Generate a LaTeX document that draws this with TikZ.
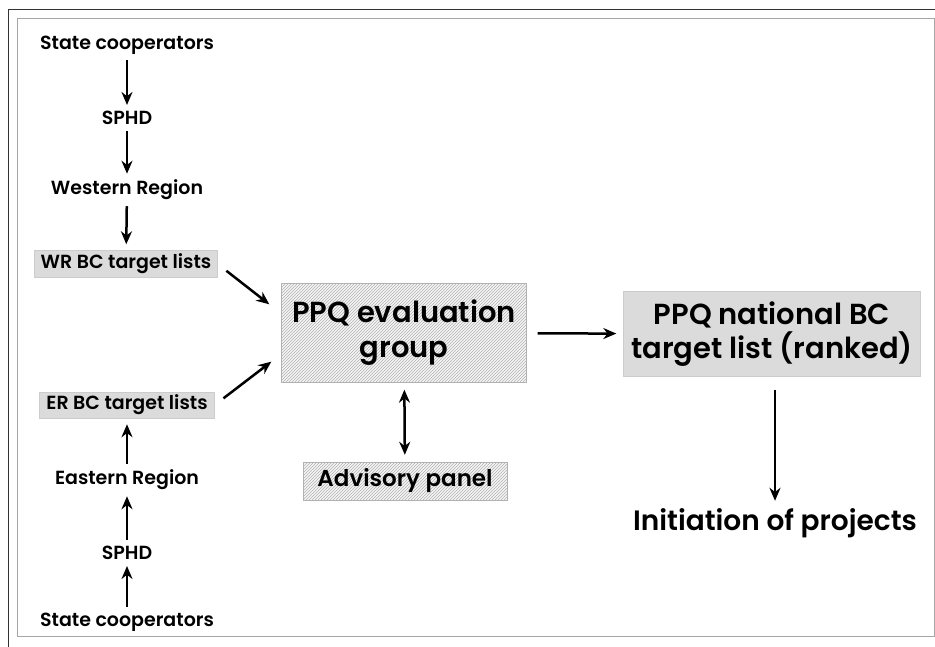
\documentclass[tikz,border=0pt]{standalone}
\usepackage{fontspec}
\setmainfont{Poppins}[UprightFont=* SemiBold]
\usepackage{tikz}
\usetikzlibrary{calc,positioning,arrows.meta,patterns}

\tikzset{
  arr/.style={line width=2.5pt,-{Stealth[length=13pt,width=11pt]}},
  lbl/.style={font=\fontsize{19}{22}\selectfont,inner sep=2pt},
  grbox/.style={fill=gray!28,draw=gray!40,inner sep=3pt},
  hatch/.style={draw=gray!60,fill=gray!8,postaction={pattern=north east lines,pattern color=gray!60}}
}

\begin{document}
\begin{tikzpicture}[x=1pt,y=-1pt]
\useasboundingbox (0,0) rectangle (935,647);
% frame
\draw[line width=1pt,black!80] (8,10) -- (935,10);
\draw[line width=1pt,black!80] (8,10) -- (8,647);
\draw[line width=1pt,gray!70] (17,19) rectangle (934,636);
% western side
\node[lbl] (wsc) at (127,45){State cooperators};
\node[lbl] (wsp) at (127,118){SPHD};
\node[lbl] (wre) at (127,190){Western Region};
\node[lbl,grbox,minimum width=183pt,minimum height=27pt] (wr) at (126,264){WR BC target lists};
% eastern side
\node[lbl,grbox,minimum width=175pt,minimum height=26pt] (er) at (127,405){ER BC target lists};
\node[lbl] (ere) at (127,480){Eastern Region};
\node[lbl] (esp) at (127,553){SPHD};
\node[lbl] (esc) at (127,622){State cooperators};
% centre
\node[hatch,align=center,minimum width=245pt,minimum height=99pt,font=\fontsize{29}{35}\selectfont] (eval) at (404,333){PPQ evaluation\\group};
\node[hatch,minimum width=204pt,minimum height=38pt,font=\fontsize{23}{26}\selectfont] (adv) at (405,481){Advisory panel};
% right
\node[grbox,align=center,minimum width=297pt,minimum height=85pt,font=\fontsize{29}{34}\selectfont] (nat) at (772,334){PPQ national BC\\target list (ranked)};
\node[font=\fontsize{28}{32}\selectfont] (init) at (775,523){Initiation of projects};
% arrows
\draw[arr,shorten <=4pt,shorten >=4pt] (wsc) -- (wsp);
\draw[arr,shorten <=4pt,shorten >=4pt] (wsp) -- (wre);
\draw[arr,shorten <=4pt,shorten >=6pt] (wre) -- (wr);
\draw[arr,shorten <=4pt,shorten >=4pt] (esc) -- (esp);
\draw[arr,shorten <=4pt,shorten >=4pt] (esp) -- (ere);
\draw[arr,shorten <=4pt,shorten >=6pt] (ere) -- (er);
\draw[arr,shorten <=11pt] (wr.east) -- ($(eval.north west)+(-12,21)$);
\draw[arr,shorten <=11pt] (er.east) -- ($(eval.south west)+(-10,-21)$);
\draw[line width=2.5pt,{Stealth[length=13pt,width=11pt]}-{Stealth[length=13pt,width=11pt]},shorten <=7pt,shorten >=7pt] (eval) -- (adv);
\draw[arr,shorten <=11pt,shorten >=7pt] (eval) -- (nat);
\draw[arr,shorten <=13pt,shorten >=4pt] (nat.south -| init) -- (init);
\end{tikzpicture}
\end{document}
